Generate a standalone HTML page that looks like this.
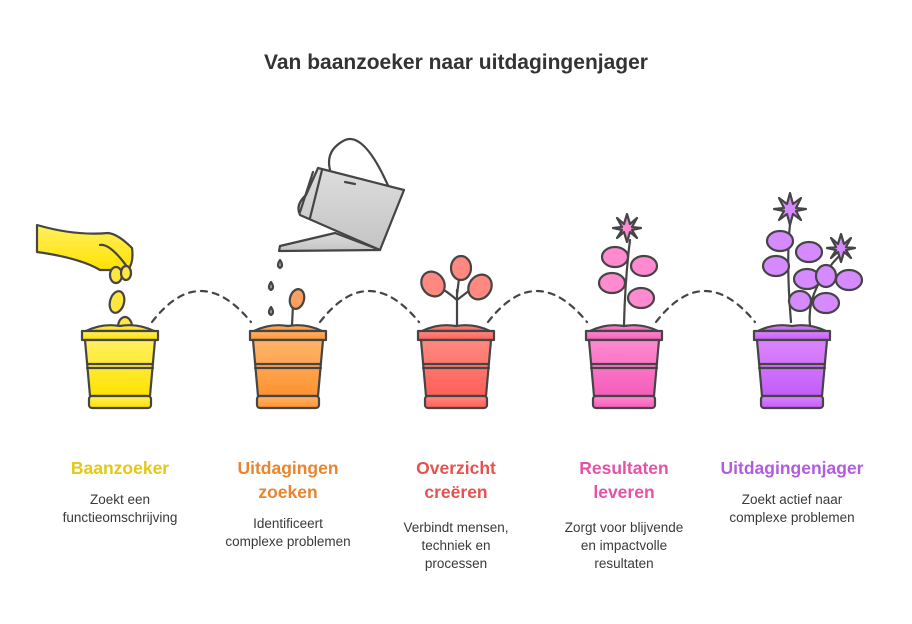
<!DOCTYPE html>
<html><head><meta charset="utf-8"><style>
body{margin:0;background:#fff;width:912px;height:624px;overflow:hidden;font-family:"Liberation Sans",Arial,sans-serif}
.t{position:absolute;text-align:center;font-weight:bold;font-size:17.5px;line-height:24px;width:180px}
.d{position:absolute;text-align:center;font-size:13.5px;line-height:18px;color:#3a3a3a;width:180px}
h1{position:absolute;left:0;width:912px;top:51px;margin:0;text-align:center;font-size:21px;color:#333}
</style></head><body>
<h1>Van baanzoeker naar uitdagingenjager</h1>
<svg width="912" height="624" style="position:absolute;left:0;top:0" stroke="#454545" stroke-width="2.2" stroke-linejoin="round" stroke-linecap="round">
<defs>
<linearGradient id="gy" x1="0" y1="0" x2="0" y2="1"><stop offset="0" stop-color="#fff060"/><stop offset="1" stop-color="#ffe200"/></linearGradient>
<linearGradient id="go" x1="0" y1="0" x2="0" y2="1"><stop offset="0" stop-color="#ffb46a"/><stop offset="1" stop-color="#fd9330"/></linearGradient>
<linearGradient id="gr" x1="0" y1="0" x2="0" y2="1"><stop offset="0" stop-color="#ff8a80"/><stop offset="1" stop-color="#ff5f5a"/></linearGradient>
<linearGradient id="gp" x1="0" y1="0" x2="0" y2="1"><stop offset="0" stop-color="#ff8ad0"/><stop offset="1" stop-color="#f55dbb"/></linearGradient>
<linearGradient id="gv" x1="0" y1="0" x2="0" y2="1"><stop offset="0" stop-color="#dc85ff"/><stop offset="1" stop-color="#c25df8"/></linearGradient>
<linearGradient id="gg" x1="0" y1="0" x2="0" y2="1"><stop offset="0" stop-color="#ddd"/><stop offset="1" stop-color="#c4c4c4"/></linearGradient>
</defs>
<g fill="none" stroke-dasharray="6 6">
<path d="M152 322 Q200 260 251 322"/><path d="M320 322 Q368 260 419 322"/><path d="M488 322 Q536 260 587 322"/><path d="M656 322 Q704 260 755 322"/>
</g>
<!-- hand -->
<path d="M37 225 L37 252 Q80 258 100 270 L128 270 Q134 262 132 248 Q118 234 108 233 Q75 236 37 225Z" fill="url(#gy)"/>
<path d="M100 245 Q110 243 128 268" fill="none"/>
<ellipse cx="116" cy="275" rx="6" ry="8" fill="#ffe640"/><ellipse cx="126" cy="273" rx="5" ry="7" fill="#ffe640"/>
<ellipse cx="117" cy="302" rx="7" ry="11" fill="#ffe640" transform="rotate(15 117 302)"/>
<ellipse cx="125" cy="327" rx="7" ry="10" fill="#ffe640"/>
<!-- can -->
<path d="M330 170 Q325 150 345 140 Q365 132 390 190" fill="none"/>
<path d="M318 168 L404 190 L380 250 L300 215 Q295 205 306 195Z" fill="url(#gg)"/>
<path d="M313 172 L300 212 M322 170 L310 218 M345 182 L355 184" fill="none"/>
<path d="M335 233 L280 246 L279 251 L380 250Z" fill="url(#gg)"/>
<g fill="#aaa"><path d="M280 260 Q276 266 280 268 Q284 266 280 260Z"/><path d="M271 282 Q267 288 271 290 Q275 288 271 282Z"/><path d="M271 307 Q267 313 271 315 Q275 313 271 307Z"/></g>
<!-- orange sprout -->
<path d="M292 325 L293 305" fill="none"/><ellipse cx="297" cy="299" rx="7" ry="10" fill="#ffa060" transform="rotate(15 297 299)"/>
<!-- red plant -->
<path d="M457 325 L457 290 M457 300 Q448 292 436 285 M457 300 L470 290 M460 270 L457 295" fill="none"/>
<ellipse cx="433" cy="284" rx="11" ry="13" fill="#ff8880" transform="rotate(-35 433 284)"/>
<ellipse cx="461" cy="268" rx="10" ry="12" fill="#ff8880"/>
<ellipse cx="480" cy="287" rx="11" ry="13" fill="#ff8880" transform="rotate(35 480 287)"/>
<!-- pink plant -->
<path d="M624 325 Q625 280 630 240" fill="none"/>
<g fill="#ff8ad0"><ellipse cx="615" cy="257" rx="13" ry="10"/><ellipse cx="644" cy="266" rx="13" ry="10"/><ellipse cx="612" cy="283" rx="13" ry="10"/><ellipse cx="641" cy="298" rx="13" ry="10"/></g>
<g fill="#ff8ad0" transform="translate(627 228)"><path d="M0 -14 L3 -4 L10 -10 L5 -1 L14 0 L5 2 L10 10 L3 4 L0 14 L-3 4 L-10 10 L-5 2 L-14 0 L-5 -1 L-10 -10 L-3 -4Z"/></g>
<!-- purple plant -->
<path d="M791 322 Q785 250 792 210 M810 325 Q806 290 840 255" fill="none"/>
<g fill="#d68aff"><ellipse cx="780" cy="241" rx="13" ry="10"/><ellipse cx="809" cy="252" rx="13" ry="10"/><ellipse cx="776" cy="266" rx="13" ry="10"/><ellipse cx="807" cy="279" rx="13" ry="10"/><ellipse cx="800" cy="301" rx="11" ry="10"/><ellipse cx="826" cy="303" rx="13" ry="10"/><ellipse cx="826" cy="276" rx="10" ry="11"/><ellipse cx="849" cy="280" rx="13" ry="10"/></g>
<g fill="#d68aff" transform="translate(790 209)"><path d="M0 -16 L3 -5 L11 -11 L6 -1 L16 0 L6 2 L11 11 L3 5 L0 16 L-3 5 L-11 11 L-6 2 L-16 0 L-6 -1 L-11 -11 L-3 -5Z"/></g>
<g fill="#d68aff" transform="translate(841 248)"><path d="M0 -14 L3 -4 L10 -10 L5 -1 L14 0 L5 2 L10 10 L3 4 L0 14 L-3 4 L-10 10 L-5 2 L-14 0 L-5 -1 L-10 -10 L-3 -4Z"/></g>
<!-- pots -->
<g transform="translate(120 0)" fill="url(#gy)"><path d="M-34 331 Q-18 323 0 326 Q18 323 34 331Z"/><rect x="-38" y="331" width="76" height="9"/><path d="M-35 340 L35 340 L30 396 L-30 396Z"/><path d="M-33 364 L33 364 M-33 368 L33 368"/><rect x="-31" y="396" width="62" height="12" rx="3"/></g>
<g transform="translate(288 0)" fill="url(#go)"><path d="M-34 331 Q-18 323 0 326 Q18 323 34 331Z"/><rect x="-38" y="331" width="76" height="9"/><path d="M-35 340 L35 340 L30 396 L-30 396Z"/><path d="M-33 364 L33 364 M-33 368 L33 368"/><rect x="-31" y="396" width="62" height="12" rx="3"/></g>
<g transform="translate(456 0)" fill="url(#gr)"><path d="M-34 331 Q-18 323 0 326 Q18 323 34 331Z"/><rect x="-38" y="331" width="76" height="9"/><path d="M-35 340 L35 340 L30 396 L-30 396Z"/><path d="M-33 364 L33 364 M-33 368 L33 368"/><rect x="-31" y="396" width="62" height="12" rx="3"/></g>
<g transform="translate(624 0)" fill="url(#gp)"><path d="M-34 331 Q-18 323 0 326 Q18 323 34 331Z"/><rect x="-38" y="331" width="76" height="9"/><path d="M-35 340 L35 340 L30 396 L-30 396Z"/><path d="M-33 364 L33 364 M-33 368 L33 368"/><rect x="-31" y="396" width="62" height="12" rx="3"/></g>
<g transform="translate(792 0)" fill="url(#gv)"><path d="M-34 331 Q-18 323 0 326 Q18 323 34 331Z"/><rect x="-38" y="331" width="76" height="9"/><path d="M-35 340 L35 340 L30 396 L-30 396Z"/><path d="M-33 364 L33 364 M-33 368 L33 368"/><rect x="-31" y="396" width="62" height="12" rx="3"/></g>
</svg>
<div class="t" style="left:30px;top:456px;color:#e3c81a">Baanzoeker</div>
<div class="d" style="left:30px;top:491px">Zoekt een<br>functieomschrijving</div>
<div class="t" style="left:198px;top:456px;color:#e8852e">Uitdagingen<br>zoeken</div>
<div class="d" style="left:198px;top:515px">Identificeert<br>complexe problemen</div>
<div class="t" style="left:366px;top:456px;color:#e5534f">Overzicht<br>creëren</div>
<div class="d" style="left:366px;top:519px">Verbindt mensen,<br>techniek en<br>processen</div>
<div class="t" style="left:534px;top:456px;color:#e552a7">Resultaten<br>leveren</div>
<div class="d" style="left:534px;top:519px">Zorgt voor blijvende<br>en impactvolle<br>resultaten</div>
<div class="t" style="left:702px;top:456px;color:#b35be0">Uitdagingenjager</div>
<div class="d" style="left:702px;top:491px">Zoekt actief naar<br>complexe problemen</div>
</body></html>
